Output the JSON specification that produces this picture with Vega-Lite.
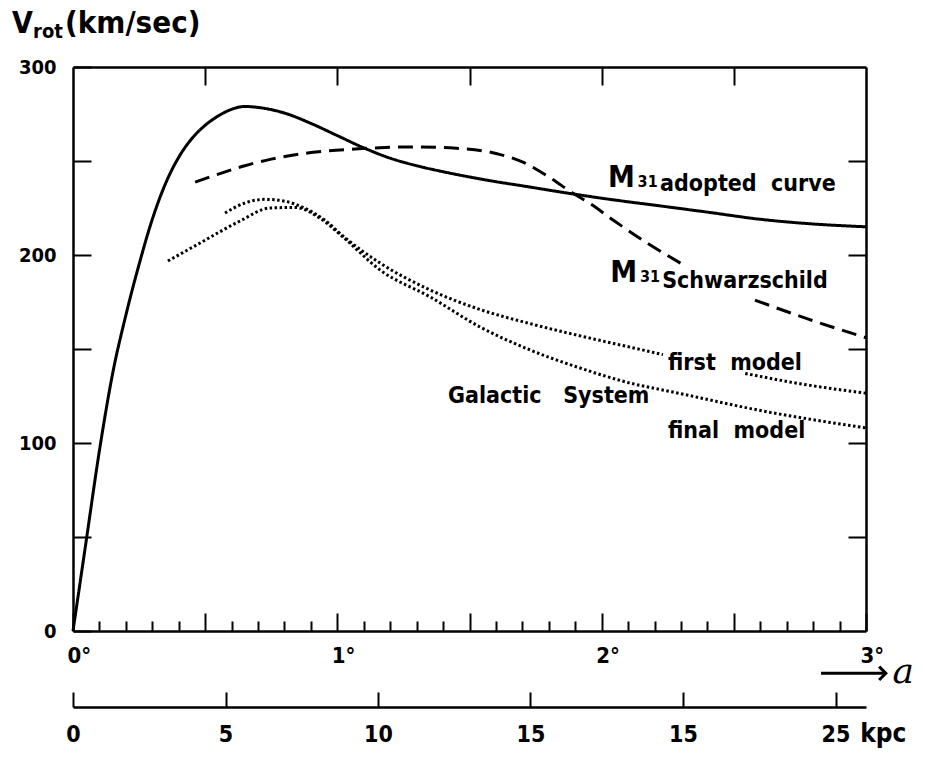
{
  "$schema": "https://vega.github.io/schema/vega-lite/v6.json",
  "width": 793,
  "height": 564,
  "padding": {"left": 73, "top": 67, "right": 59, "bottom": 129},
  "autosize": {"type": "none"},
  "background": "white",
  "config": {
    "view": {"stroke": null},
    "font": "DejaVu Sans Condensed",
    "axis": {
      "domainColor": "black", "domainWidth": 2.5, "tickColor": "black", "tickWidth": 2,
      "grid": false, "labelColor": "black", "labelFont": "DejaVu Sans Condensed",
      "labelFontWeight": "bold", "labelFontSize": 20, "title": null
    },
    "text": {"font": "DejaVu Sans Condensed", "fontWeight": "bold", "color": "black", "align": "left", "baseline": "alphabetic"}
  },
  "datasets": {
    "curves": [
      {"a": 0, "v": 0, "curve": "adopted", "seg": "m"},
      {"a": 0.05, "v": 48, "curve": "adopted", "seg": "m"},
      {"a": 0.1, "v": 96, "curve": "adopted", "seg": "m"},
      {"a": 0.15, "v": 137, "curve": "adopted", "seg": "m"},
      {"a": 0.2, "v": 168, "curve": "adopted", "seg": "m"},
      {"a": 0.25, "v": 195, "curve": "adopted", "seg": "m"},
      {"a": 0.3, "v": 219, "curve": "adopted", "seg": "m"},
      {"a": 0.35, "v": 238, "curve": "adopted", "seg": "m"},
      {"a": 0.4, "v": 252, "curve": "adopted", "seg": "m"},
      {"a": 0.45, "v": 262, "curve": "adopted", "seg": "m"},
      {"a": 0.5, "v": 269, "curve": "adopted", "seg": "m"},
      {"a": 0.55, "v": 274, "curve": "adopted", "seg": "m"},
      {"a": 0.6, "v": 277.5, "curve": "adopted", "seg": "m"},
      {"a": 0.65, "v": 279, "curve": "adopted", "seg": "m"},
      {"a": 0.7, "v": 278.5, "curve": "adopted", "seg": "m"},
      {"a": 0.8, "v": 275.5, "curve": "adopted", "seg": "m"},
      {"a": 0.9, "v": 270, "curve": "adopted", "seg": "m"},
      {"a": 1.0, "v": 263.5, "curve": "adopted", "seg": "m"},
      {"a": 1.1, "v": 257, "curve": "adopted", "seg": "m"},
      {"a": 1.2, "v": 251.5, "curve": "adopted", "seg": "m"},
      {"a": 1.3, "v": 247.5, "curve": "adopted", "seg": "m"},
      {"a": 1.4, "v": 244.3, "curve": "adopted", "seg": "m"},
      {"a": 1.5, "v": 241.5, "curve": "adopted", "seg": "m"},
      {"a": 1.6, "v": 239, "curve": "adopted", "seg": "m"},
      {"a": 1.7, "v": 236.8, "curve": "adopted", "seg": "m"},
      {"a": 1.8, "v": 234.5, "curve": "adopted", "seg": "m"},
      {"a": 1.9, "v": 232.3, "curve": "adopted", "seg": "m"},
      {"a": 2.0, "v": 230.2, "curve": "adopted", "seg": "m"},
      {"a": 2.1, "v": 228.3, "curve": "adopted", "seg": "m"},
      {"a": 2.2, "v": 226.5, "curve": "adopted", "seg": "m"},
      {"a": 2.4, "v": 222.8, "curve": "adopted", "seg": "m"},
      {"a": 2.6, "v": 219, "curve": "adopted", "seg": "m"},
      {"a": 2.8, "v": 216.5, "curve": "adopted", "seg": "m"},
      {"a": 3.0, "v": 215, "curve": "adopted", "seg": "m"},
      {"a": 0.462, "v": 238.8, "curve": "schwarzschild", "seg": "s1"},
      {"a": 0.55, "v": 243, "curve": "schwarzschild", "seg": "s1"},
      {"a": 0.65, "v": 247.5, "curve": "schwarzschild", "seg": "s1"},
      {"a": 0.75, "v": 251, "curve": "schwarzschild", "seg": "s1"},
      {"a": 0.9, "v": 254.5, "curve": "schwarzschild", "seg": "s1"},
      {"a": 1.08, "v": 256.5, "curve": "schwarzschild", "seg": "s1"},
      {"a": 1.3, "v": 257.5, "curve": "schwarzschild", "seg": "s1"},
      {"a": 1.45, "v": 256.8, "curve": "schwarzschild", "seg": "s1"},
      {"a": 1.6, "v": 254, "curve": "schwarzschild", "seg": "s1"},
      {"a": 1.7, "v": 249.5, "curve": "schwarzschild", "seg": "s1"},
      {"a": 1.8, "v": 241.5, "curve": "schwarzschild", "seg": "s1"},
      {"a": 1.89, "v": 233, "curve": "schwarzschild", "seg": "s1"},
      {"a": 1.96, "v": 227, "curve": "schwarzschild", "seg": "s1"},
      {"a": 2.043, "v": 218.6, "curve": "schwarzschild", "seg": "s1"},
      {"a": 2.172, "v": 206.4, "curve": "schwarzschild", "seg": "s1"},
      {"a": 2.3, "v": 195.5, "curve": "schwarzschild", "seg": "s1"},
      {"a": 2.58, "v": 176, "curve": "schwarzschild", "seg": "s2"},
      {"a": 2.79, "v": 165.5, "curve": "schwarzschild", "seg": "s2"},
      {"a": 3.0, "v": 156, "curve": "schwarzschild", "seg": "s2"},
      {"a": 0.575, "v": 222.3, "curve": "first", "seg": "f1"},
      {"a": 0.651, "v": 227.7, "curve": "first", "seg": "f1"},
      {"a": 0.726, "v": 229.6, "curve": "first", "seg": "f1"},
      {"a": 0.802, "v": 228.6, "curve": "first", "seg": "f1"},
      {"a": 0.878, "v": 224.8, "curve": "first", "seg": "f1"},
      {"a": 0.953, "v": 218.5, "curve": "first", "seg": "f1"},
      {"a": 1.022, "v": 210, "curve": "first", "seg": "f1"},
      {"a": 1.162, "v": 195.7, "curve": "first", "seg": "f1"},
      {"a": 1.351, "v": 181.4, "curve": "first", "seg": "f1"},
      {"a": 1.54, "v": 171, "curve": "first", "seg": "f1"},
      {"a": 1.729, "v": 163.5, "curve": "first", "seg": "f1"},
      {"a": 1.918, "v": 157, "curve": "first", "seg": "f1"},
      {"a": 2.107, "v": 151, "curve": "first", "seg": "f1"},
      {"a": 2.232, "v": 147, "curve": "first", "seg": "f1"},
      {"a": 2.543, "v": 137, "curve": "first", "seg": "f2"},
      {"a": 2.751, "v": 131.5, "curve": "first", "seg": "f2"},
      {"a": 3.0, "v": 126.5, "curve": "first", "seg": "f2"},
      {"a": 0.359, "v": 196.8, "curve": "final", "seg": "g"},
      {"a": 0.481, "v": 206.4, "curve": "final", "seg": "g"},
      {"a": 0.632, "v": 218.1, "curve": "final", "seg": "g"},
      {"a": 0.745, "v": 225, "curve": "final", "seg": "g"},
      {"a": 0.84, "v": 225.3, "curve": "final", "seg": "g"},
      {"a": 0.935, "v": 219.5, "curve": "final", "seg": "g"},
      {"a": 1.022, "v": 209.5, "curve": "final", "seg": "g"},
      {"a": 1.162, "v": 192, "curve": "final", "seg": "g"},
      {"a": 1.351, "v": 177.7, "curve": "final", "seg": "g"},
      {"a": 1.54, "v": 161.7, "curve": "final", "seg": "g"},
      {"a": 1.729, "v": 149.5, "curve": "final", "seg": "g"},
      {"a": 1.918, "v": 139.9, "curve": "final", "seg": "g"},
      {"a": 2.107, "v": 131.9, "curve": "final", "seg": "g"},
      {"a": 2.27, "v": 127.1, "curve": "final", "seg": "g"},
      {"a": 2.611, "v": 117, "curve": "final", "seg": "g"},
      {"a": 3.0, "v": 108, "curve": "final", "seg": "g"}
    ],
    "notes": [
      {"a": -0.231, "v": 318.1, "text": "V", "kind": "big"},
      {"a": -0.03, "v": 318.1, "text": "(km/sec)", "kind": "title"},
      {"a": -0.151, "v": 315.4, "text": "rot", "kind": "sub"},
      {"a": 2.024, "v": 236.2, "text": "M", "kind": "big"},
      {"a": 2.136, "v": 236.2, "text": "31", "kind": "idx"},
      {"a": 2.221, "v": 234.0, "text": "adopted\u00a0\u00a0curve", "kind": "label"},
      {"a": 2.032, "v": 185.6, "text": "M", "kind": "big"},
      {"a": 2.145, "v": 185.6, "text": "31", "kind": "idx"},
      {"a": 2.229, "v": 182.4, "text": "Schwarzschild", "kind": "label"},
      {"a": 2.251, "v": 138.8, "text": "first\u00a0\u00a0model", "kind": "label"},
      {"a": 1.419, "v": 121.3, "text": "Galactic\u00a0\u00a0\u00a0System", "kind": "label"},
      {"a": 2.251, "v": 102.7, "text": "final\u00a0\u00a0model", "kind": "label"},
      {"a": 2.978, "v": -59.0, "text": "kpc", "kind": "kpc"},
      {"a": 3.1, "v": -27.6, "text": "a", "kind": "italic"}
    ],
    "arrow": [{"a": 2.83, "a2": 3.075, "v": -22.5}],
    "frame": [{"a": 0, "v": 0}]
  },
  "layer": [
    {
      "layer": [
        {
          "data": {"name": "curves"},
          "mark": {"type": "line", "interpolate": "monotone", "color": "black", "clip": false, "strokeCap": "butt"},
          "encoding": {
            "x": {
              "field": "a", "type": "quantitative",
              "scale": {"domain": [0, 3], "nice": false, "zero": false},
              "axis": {
                "orient": "bottom",
                "values": [0, 0.1, 0.2, 0.3, 0.4, 0.5, 0.6, 0.7, 0.8, 0.9, 1, 1.1, 1.2, 1.3, 1.4, 1.5, 1.6, 1.7, 1.8, 1.9, 2, 2.1, 2.2, 2.3, 2.4, 2.5, 2.6, 2.7, 2.8, 2.9, 3],
                "tickSize": {"condition": {"test": "abs(datum.value*2 - round(datum.value*2)) < 0.01", "value": -18}, "value": -10},
                "labelExpr": "abs(datum.value - round(datum.value)) < 0.01 ? round(datum.value) + '°' : ''",
                "labelAlign": "left", "labelOffset": -6, "labelFlush": false,
                "labelPadding": 32, "labelBaseline": "top", "labelFontSize": 22
              }
            },
            "y": {
              "field": "v", "type": "quantitative",
              "scale": {"domain": [0, 300], "nice": false, "zero": false},
              "axis": {
                "orient": "left",
                "values": [0, 50, 100, 150, 200, 250, 300],
                "tickSize": -18,
                "labelExpr": "datum.value % 100 === 0 ? datum.label : ''",
                "labelPadding": 35, "labelFlush": false
              }
            },
            "strokeDash": {
              "field": "curve", "type": "nominal",
              "scale": {"domain": ["adopted", "schwarzschild", "first", "final"], "range": [[1, 0], [15, 8], [2.5, 2.5], [2.5, 2.5]]},
              "legend": null
            },
            "strokeWidth": {
              "field": "curve", "type": "nominal",
              "scale": {"domain": ["adopted", "schwarzschild", "first", "final"], "range": [3, 3, 2.2, 2.2]},
              "legend": null
            },
            "detail": {"field": "seg"}
          }
        },
        {
          "data": {"name": "frame"},
          "mark": {"type": "point", "opacity": 0},
          "encoding": {
            "x": {
              "field": "a", "type": "quantitative",
              "scale": {"domain": [0, 3], "nice": false, "zero": false},
              "axis": {"orient": "top", "values": [0.5, 1, 1.5, 2, 2.5], "tickSize": -18, "labels": false}
            },
            "y": {
              "field": "v", "type": "quantitative",
              "scale": {"domain": [0, 300], "nice": false, "zero": false},
              "axis": {"orient": "right", "values": [50, 100, 150, 200, 250], "tickSize": -18, "labels": false}
            }
          }
        },
        {
          "data": {"name": "arrow"},
          "mark": {"type": "rule", "color": "black", "strokeWidth": 3, "clip": false},
          "encoding": {
            "x": {"field": "a", "type": "quantitative", "scale": {"domain": [0, 3], "nice": false, "zero": false}, "axis": null},
            "x2": {"field": "a2"},
            "y": {"field": "v", "type": "quantitative", "scale": {"domain": [0, 300], "nice": false, "zero": false}, "axis": null}
          }
        },
        {
          "data": {"name": "arrow"},
          "mark": {"type": "point", "shape": "M-1,-1L0,0L-1,1", "filled": false, "size": 180, "strokeWidth": 3, "color": "black", "opacity": 1, "clip": false},
          "encoding": {
            "x": {"field": "a2", "type": "quantitative", "scale": {"domain": [0, 3], "nice": false, "zero": false}, "axis": null},
            "y": {"field": "v", "type": "quantitative", "scale": {"domain": [0, 300], "nice": false, "zero": false}, "axis": null}
          }
        },
        {
          "data": {"name": "notes"},
          "transform": [{"filter": "datum.kind === 'big'"}],
          "mark": {"type": "text", "fontSize": 30},
          "encoding": {
            "x": {"field": "a", "type": "quantitative", "scale": {"domain": [0, 3], "nice": false, "zero": false}, "axis": null},
            "y": {"field": "v", "type": "quantitative", "scale": {"domain": [0, 300], "nice": false, "zero": false}, "axis": null},
            "text": {"field": "text"}
          }
        },
        {
          "data": {"name": "notes"},
          "transform": [{"filter": "datum.kind === 'title'"}],
          "mark": {"type": "text", "fontSize": 31},
          "encoding": {
            "x": {"field": "a", "type": "quantitative", "scale": {"domain": [0, 3], "nice": false, "zero": false}, "axis": null},
            "y": {"field": "v", "type": "quantitative", "scale": {"domain": [0, 300], "nice": false, "zero": false}, "axis": null},
            "text": {"field": "text"}
          }
        },
        {
          "data": {"name": "notes"},
          "transform": [{"filter": "datum.kind === 'sub'"}],
          "mark": {"type": "text", "fontSize": 20},
          "encoding": {
            "x": {"field": "a", "type": "quantitative", "scale": {"domain": [0, 3], "nice": false, "zero": false}, "axis": null},
            "y": {"field": "v", "type": "quantitative", "scale": {"domain": [0, 300], "nice": false, "zero": false}, "axis": null},
            "text": {"field": "text"}
          }
        },
        {
          "data": {"name": "notes"},
          "transform": [{"filter": "datum.kind === 'idx'"}],
          "mark": {"type": "text", "fontSize": 16},
          "encoding": {
            "x": {"field": "a", "type": "quantitative", "scale": {"domain": [0, 3], "nice": false, "zero": false}, "axis": null},
            "y": {"field": "v", "type": "quantitative", "scale": {"domain": [0, 300], "nice": false, "zero": false}, "axis": null},
            "text": {"field": "text"}
          }
        },
        {
          "data": {"name": "notes"},
          "transform": [{"filter": "datum.kind === 'label'"}],
          "mark": {"type": "text", "fontSize": 23},
          "encoding": {
            "x": {"field": "a", "type": "quantitative", "scale": {"domain": [0, 3], "nice": false, "zero": false}, "axis": null},
            "y": {"field": "v", "type": "quantitative", "scale": {"domain": [0, 300], "nice": false, "zero": false}, "axis": null},
            "text": {"field": "text"}
          }
        },
        {
          "data": {"name": "notes"},
          "transform": [{"filter": "datum.kind === 'kpc'"}],
          "mark": {"type": "text", "fontSize": 26},
          "encoding": {
            "x": {"field": "a", "type": "quantitative", "scale": {"domain": [0, 3], "nice": false, "zero": false}, "axis": null},
            "y": {"field": "v", "type": "quantitative", "scale": {"domain": [0, 300], "nice": false, "zero": false}, "axis": null},
            "text": {"field": "text"}
          }
        },
        {
          "data": {"name": "notes"},
          "transform": [{"filter": "datum.kind === 'italic'"}],
          "mark": {"type": "text", "fontSize": 36, "font": "DejaVu Serif", "fontStyle": "italic", "fontWeight": "normal"},
          "encoding": {
            "x": {"field": "a", "type": "quantitative", "scale": {"domain": [0, 3], "nice": false, "zero": false}, "axis": null},
            "y": {"field": "v", "type": "quantitative", "scale": {"domain": [0, 300], "nice": false, "zero": false}, "axis": null},
            "text": {"field": "text"}
          }
        }
      ],
      "resolve": {"axis": {"x": "independent", "y": "independent"}}
    },
    {
      "data": {"values": [{"k": 0}, {"k": 26}]},
      "mark": {"type": "point", "opacity": 0},
      "encoding": {
        "x": {
          "field": "k", "type": "quantitative",
          "scale": {"domain": [0, 26], "nice": false, "zero": false},
          "axis": {
            "orient": "bottom", "offset": 76,
            "values": [0, 5, 10, 15, 20, 25],
            "tickSize": -15,
            "labelExpr": "datum.value === 20 ? '15' : datum.label",
            "labelFlush": false, "labelPadding": 31, "labelFontSize": 23, "labelBaseline": "top"
          }
        }
      }
    }
  ],
  "resolve": {"scale": {"x": "independent"}}
}
